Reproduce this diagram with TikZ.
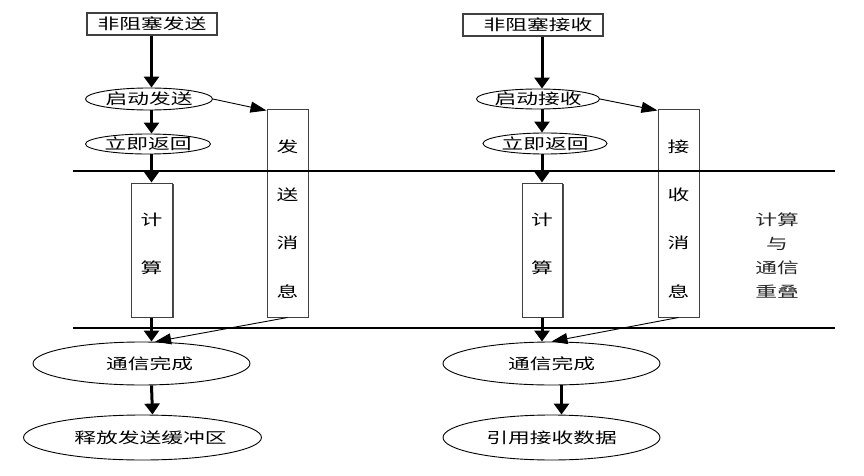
\documentclass[tikz,border=0pt]{standalone}
\usepackage{fontspec}
\newfontfamily\cjk[FakeStretch=1.45]{Noto Sans CJK SC}
\usetikzlibrary{arrows.meta,shapes.geometric,shadows}
\begin{document}
\begin{tikzpicture}[x=1pt,y=-1pt,
  every node/.style={font=\cjk\fontsize{15}{24}\selectfont, inner sep=0pt},
  rbox/.style={draw=black!75, line width=1.2pt, minimum height=22pt},
  ell/.style={ellipse, draw, line width=0.9pt},
  cbox/.style={draw=black!75, fill=white, line width=1pt, minimum width=41pt,
     drop shadow={shadow xshift=1.6pt, shadow yshift=-1.2pt, fill=black!70, opacity=1}},
  mbox/.style={draw=black!75, fill=white, line width=1pt, minimum width=41pt},
  thick arrow/.style={line width=3pt, -{Triangle[width=15pt,length=11pt]}},
  thin arrow/.style={line width=0.9pt, -{Triangle[width=11pt,length=16pt]}},
  hline/.style={line width=2.5pt},
  vt/.style={}]
\useasboundingbox (0,0) rectangle (864,476);
% separator lines
\coordinate (l1a) at (73,171); \coordinate (l1b) at (835,171);
\coordinate (l2a) at (73,328); \coordinate (l2b) at (835,328);
% ---------- left column ----------
\node[rbox, minimum width=130pt] (ts) at (152,24) {非阻塞发送};
\node[ell, minimum width=127pt, minimum height=22pt] (s1) at (149,99) {启动发送};
\node[ell, minimum width=125pt, minimum height=20pt] (s2) at (148,144) {立即返回};
\node[mbox, minimum height=207pt] (sm) at (287.5,213.5) {};
\node[vt] at (287.5,147) {发};
\node[vt] at (287.5,195) {送};
\node[vt] at (287.5,243) {消};
\node[vt] at (287.5,292) {息};
\node[cbox, minimum height=134pt] (sc) at (151.5,250) {};
\node[vt] at (151.5,220) {计};
\node[vt] at (151.5,268) {算};
\node[ell, minimum width=217pt, minimum height=43pt] (c1) at (141.5,363.5) {\hspace*{16pt}通信完成};
\node[ell, minimum width=215pt, minimum height=45pt] (c2) at (142.5,437.5) {\hspace*{16pt}释放发送缓冲区};
% ---------- right column ----------
\node[rbox, minimum width=140pt] (rt) at (533,25) {\hspace*{10pt}非阻塞接收};
\node[ell, minimum width=122pt, minimum height=20pt] (r1) at (538,99) {启动接收};
\node[ell, minimum width=124pt, minimum height=21pt] (r2) at (545,143.5) {立即返回};
\node[mbox, minimum height=207pt] (rm) at (678.5,213.5) {};
\node[vt] at (678.5,147) {接};
\node[vt] at (678.5,195) {收};
\node[vt] at (678.5,243) {消};
\node[vt] at (678.5,292) {息};
\node[cbox, minimum width=40pt, minimum height=134pt] (rc) at (542,250) {};
\node[vt] at (542,220) {计};
\node[vt] at (542,268) {算};
\node[ell, minimum width=217pt, minimum height=43pt] (d1) at (551.5,363.5) {通信完成};
\node[ell, minimum width=217pt, minimum height=45pt] (d2) at (551.5,437.5) {引用接收数据};
% overlap note
\node[align=center, text=black!85] (note) at (777,256) {计算\\与\\通信\\重叠};
% lines
\draw[hline] (l1a) -- (l1b);
\draw[hline] (l2a) -- (l2b);
% left arrows
\draw[thick arrow] (ts.south -| sc.south) -- (s1.north -| sc.south);
\draw[thick arrow] (s1.south -| sc.south) -- (s2.north -| sc.south);
\draw[thick arrow] (s2.south -| sc.south) -- (sc.north);
\draw[thick arrow] (sc.south) -- (sc.south |- c1.north);
\draw[thick arrow] ([xshift=10pt]c1.south) -- ([xshift=10pt]c2.north);
\draw[thin arrow] (s1.east) -- ([yshift=-1pt]sm.north west);
\draw[thin arrow] (sm.south) -- (c1.58);
% right arrows
\draw[thick arrow] (rt.south -| rc.south) -- (r1.north -| rc.south);
\draw[thick arrow] (r1.south -| rc.south) -- (r2.north -| rc.south);
\draw[thick arrow] (r2.south -| rc.south) -- (rc.north);
\draw[thick arrow] (rc.south) -- (rc.south |- d1.north);
\draw[thick arrow] ([xshift=10pt]d1.south) -- ([xshift=10pt]d2.north);
\draw[thin arrow] (r1.east) -- ([yshift=-1pt]rm.north west);
\draw[thin arrow] (rm.south) -- (d1.north);
\end{tikzpicture}
\end{document}
